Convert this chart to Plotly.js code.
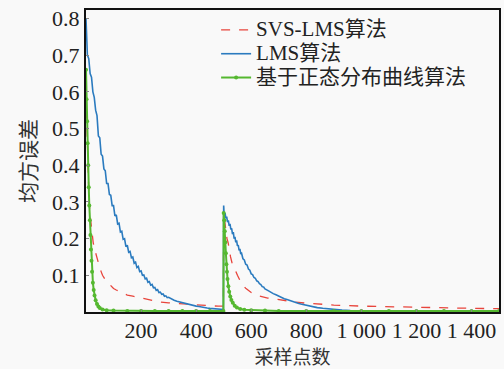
<!DOCTYPE html>
<html>
<head>
<meta charset="utf-8">
<script src="https://cdn.plot.ly/plotly-3.0.1.min.js"></script>
<style>html,body{margin:0;padding:0;background:#f9f9f9;}#chart{width:504px;height:369px;}</style>
</head>
<body>
<div id="chart"></div>
<script>
// Series names
const seriesNames = ['SVS-LMS算法', 'LMS算法', '基于正态分布曲线算法'];

// SVS-LMS (red dashed)
const svsX = [0,3,6,10,14,18,22,26,30,35,40,45,50,55,60,70,80,90,100,110,120,130,140,150,170,190,210,230,250,270,300,330,360,390,420,450,480,499,
  500,503,507,512,516,520,525,530,535,540,550,560,570,580,590,600,620,640,660,690,720,760,800,850,900,1000,1100,1200,1300,1400,1500];
const svsY = [0.60,0.50,0.40,0.33,0.27,0.24,0.215,0.19,0.175,0.16,0.145,0.13,0.12,0.11,0.10,0.088,0.079,0.07,0.064,0.06,0.056,0.053,0.049,0.046,0.043,0.04,0.036,0.032,0.029,0.027,0.025,0.023,0.021,0.019,0.018,0.017,0.016,0.016,
  0.27,0.25,0.22,0.20,0.19,0.17,0.15,0.135,0.125,0.115,0.10,0.085,0.072,0.065,0.058,0.053,0.045,0.041,0.038,0.035,0.031,0.027,0.024,0.021,0.019,0.016,0.014,0.012,0.011,0.010,0.009];

// LMS (blue)
const lmsX = [0,5,10,15,20,25,30,35,40,45,50,55,60,65,70,75,80,85,90,95,100,105,110,115,120,125,130,135,140,145,150,155,160,165,170,175,180,185,190,195,200,205,210,215,220,225,230,235,240,245,250,255,260,265,270,275,280,285,290,295,300,
  310,320,330,340,350,360,370,380,390,400,410,420,430,440,450,460,470,480,490,499,
  500,502,505,508,511,514,517,520,523,526,529,532,535,538,541,544,547,550,553,556,559,562,565,570,575,580,585,590,595,600,605,610,615,620,625,630,635,640,645,650,660,670,680,690,700,710,720,730,740,750,760,770,780,790,800,820,840,860,880,900,930,960,1000,1100,1200,1300,1400,1500];
const lmsY = [0.80,0.70,0.69,0.65,0.64,0.60,0.585,0.55,0.535,0.48,0.475,0.43,0.425,0.39,0.385,0.35,0.35,0.32,0.318,0.29,0.29,0.262,0.265,0.24,0.242,0.218,0.22,0.198,0.20,0.178,0.182,0.163,0.165,0.148,0.15,0.133,0.136,0.121,0.124,0.11,0.112,0.10,0.101,0.09,0.092,0.081,0.083,0.073,0.075,0.066,0.067,0.059,0.061,0.053,0.054,0.048,0.049,0.043,0.044,0.039,0.04,
  0.035,0.032,0.029,0.027,0.025,0.022,0.021,0.019,0.018,0.016,0.015,0.013,0.012,0.011,0.010,0.009,0.009,0.008,0.007,0.007,
  0.29,0.26,0.27,0.255,0.26,0.245,0.25,0.235,0.24,0.225,0.228,0.212,0.218,0.20,0.205,0.19,0.195,0.18,0.182,0.168,0.172,0.158,0.16,0.145,0.142,0.13,0.128,0.117,0.114,0.104,0.102,0.094,0.092,0.085,0.083,0.077,0.075,0.069,0.068,0.063,0.059,0.054,0.05,0.047,0.043,0.04,0.036,0.034,0.031,0.028,0.026,0.024,0.022,0.02,0.018,0.015,0.012,0.01,0.008,0.006,0.005,0.004,0.003,0.002,0.002,0.001,0.001,0.001];

// Normal-distribution-curve algorithm (green)
const normX = [0,2,4,6,8,10,12,14,16,18,20,22,25,28,31,35,40,45,50,60,75,100,150,200,250,300,350,400,450,499,
  500,502,504,506,508,510,512,514,517,520,524,528,533,540,548,560,575,600,650,700,800,900,1000,1100,1200,1300,1400,1500];
const normY = [0.66,0.58,0.52,0.46,0.40,0.34,0.29,0.25,0.21,0.17,0.14,0.11,0.08,0.06,0.045,0.032,0.022,0.015,0.011,0.007,0.005,0.004,0.003,0.003,0.003,0.003,0.003,0.003,0.003,0.003,
  0.27,0.25,0.22,0.19,0.16,0.13,0.11,0.09,0.07,0.055,0.042,0.033,0.025,0.017,0.012,0.008,0.006,0.005,0.004,0.003,0.003,0.003,0.003,0.003,0.003,0.003,0.003,0.003];

// Axis ticks
const xTickVals = [200,400,600,800,1000,1200,1400];
const xTickText = ['200','400','600','800','1 000','1 200','1 400'];
const yTickVals = [0.1,0.2,0.3,0.4,0.5,0.6,0.7,0.8];
const yTickText = ['0.1','0.2','0.3','0.4','0.5','0.6','0.7','0.8'];

const serif = '"Liberation Serif", "Times New Roman", "Noto Sans CJK SC", serif';
const cjk = '"Noto Sans CJK SC", "Liberation Serif", sans-serif';
const big = (s) => '<span style="font-size:21px">' + s + '</span>';

const traces = [
  {x: svsX, y: svsY, name: big(seriesNames[0]), mode: 'lines', type: 'scatter',
   line: {color: '#e8453c', width: 1.3, dash: 'dash'}},
  {x: lmsX, y: lmsY, name: big(seriesNames[1]), mode: 'lines', type: 'scatter',
   line: {color: '#2b7bbf', width: 1.6}},
  {x: normX, y: normY, name: big(seriesNames[2]), mode: 'lines+markers', type: 'scatter',
   line: {color: '#55b830', width: 2}, marker: {color: '#55b830', size: 4}}
];

const layout = {
  width: 504, height: 369,
  margin: {l: 86, r: 5, t: 10, b: 57},
  paper_bgcolor: '#f9f9f9', plot_bgcolor: '#f9f9f9',
  font: {family: serif, size: 22, color: '#222'},
  showlegend: true,
  legend: {x: 0.315, y: 0.99, xanchor: 'left', yanchor: 'top', bgcolor: 'rgba(0,0,0,0)',
           font: {family: serif, size: 16, color: '#222'}, tracegroupgap: 0},
  xaxis: {range: [0, 1500], tickvals: xTickVals, ticktext: xTickText, ticks: 'inside', ticklen: 3,
          ticklabelstandoff: -2,
          tickcolor: '#888', showgrid: false, zeroline: false, showline: true, mirror: true,
          linecolor: '#111', linewidth: 2, tickfont: {family: serif, size: 22, color: '#222'},
          title: {text: '采样点数', font: {family: cjk, size: 19, color: '#333'}, standoff: 12}},
  yaxis: {range: [0, 0.823], tickvals: yTickVals, ticktext: yTickText, ticks: 'inside', ticklen: 3,
          tickcolor: '#888', showgrid: false, zeroline: false, showline: true, mirror: true,
          linecolor: '#111', linewidth: 2, tickfont: {family: serif, size: 22, color: '#222'},
          title: {text: '均方误差', font: {family: cjk, size: 21, color: '#333'}, standoff: 10}}
};

Plotly.newPlot('chart', traces, layout, {displayModeBar: false, staticPlot: true});
</script>
</body>
</html>
